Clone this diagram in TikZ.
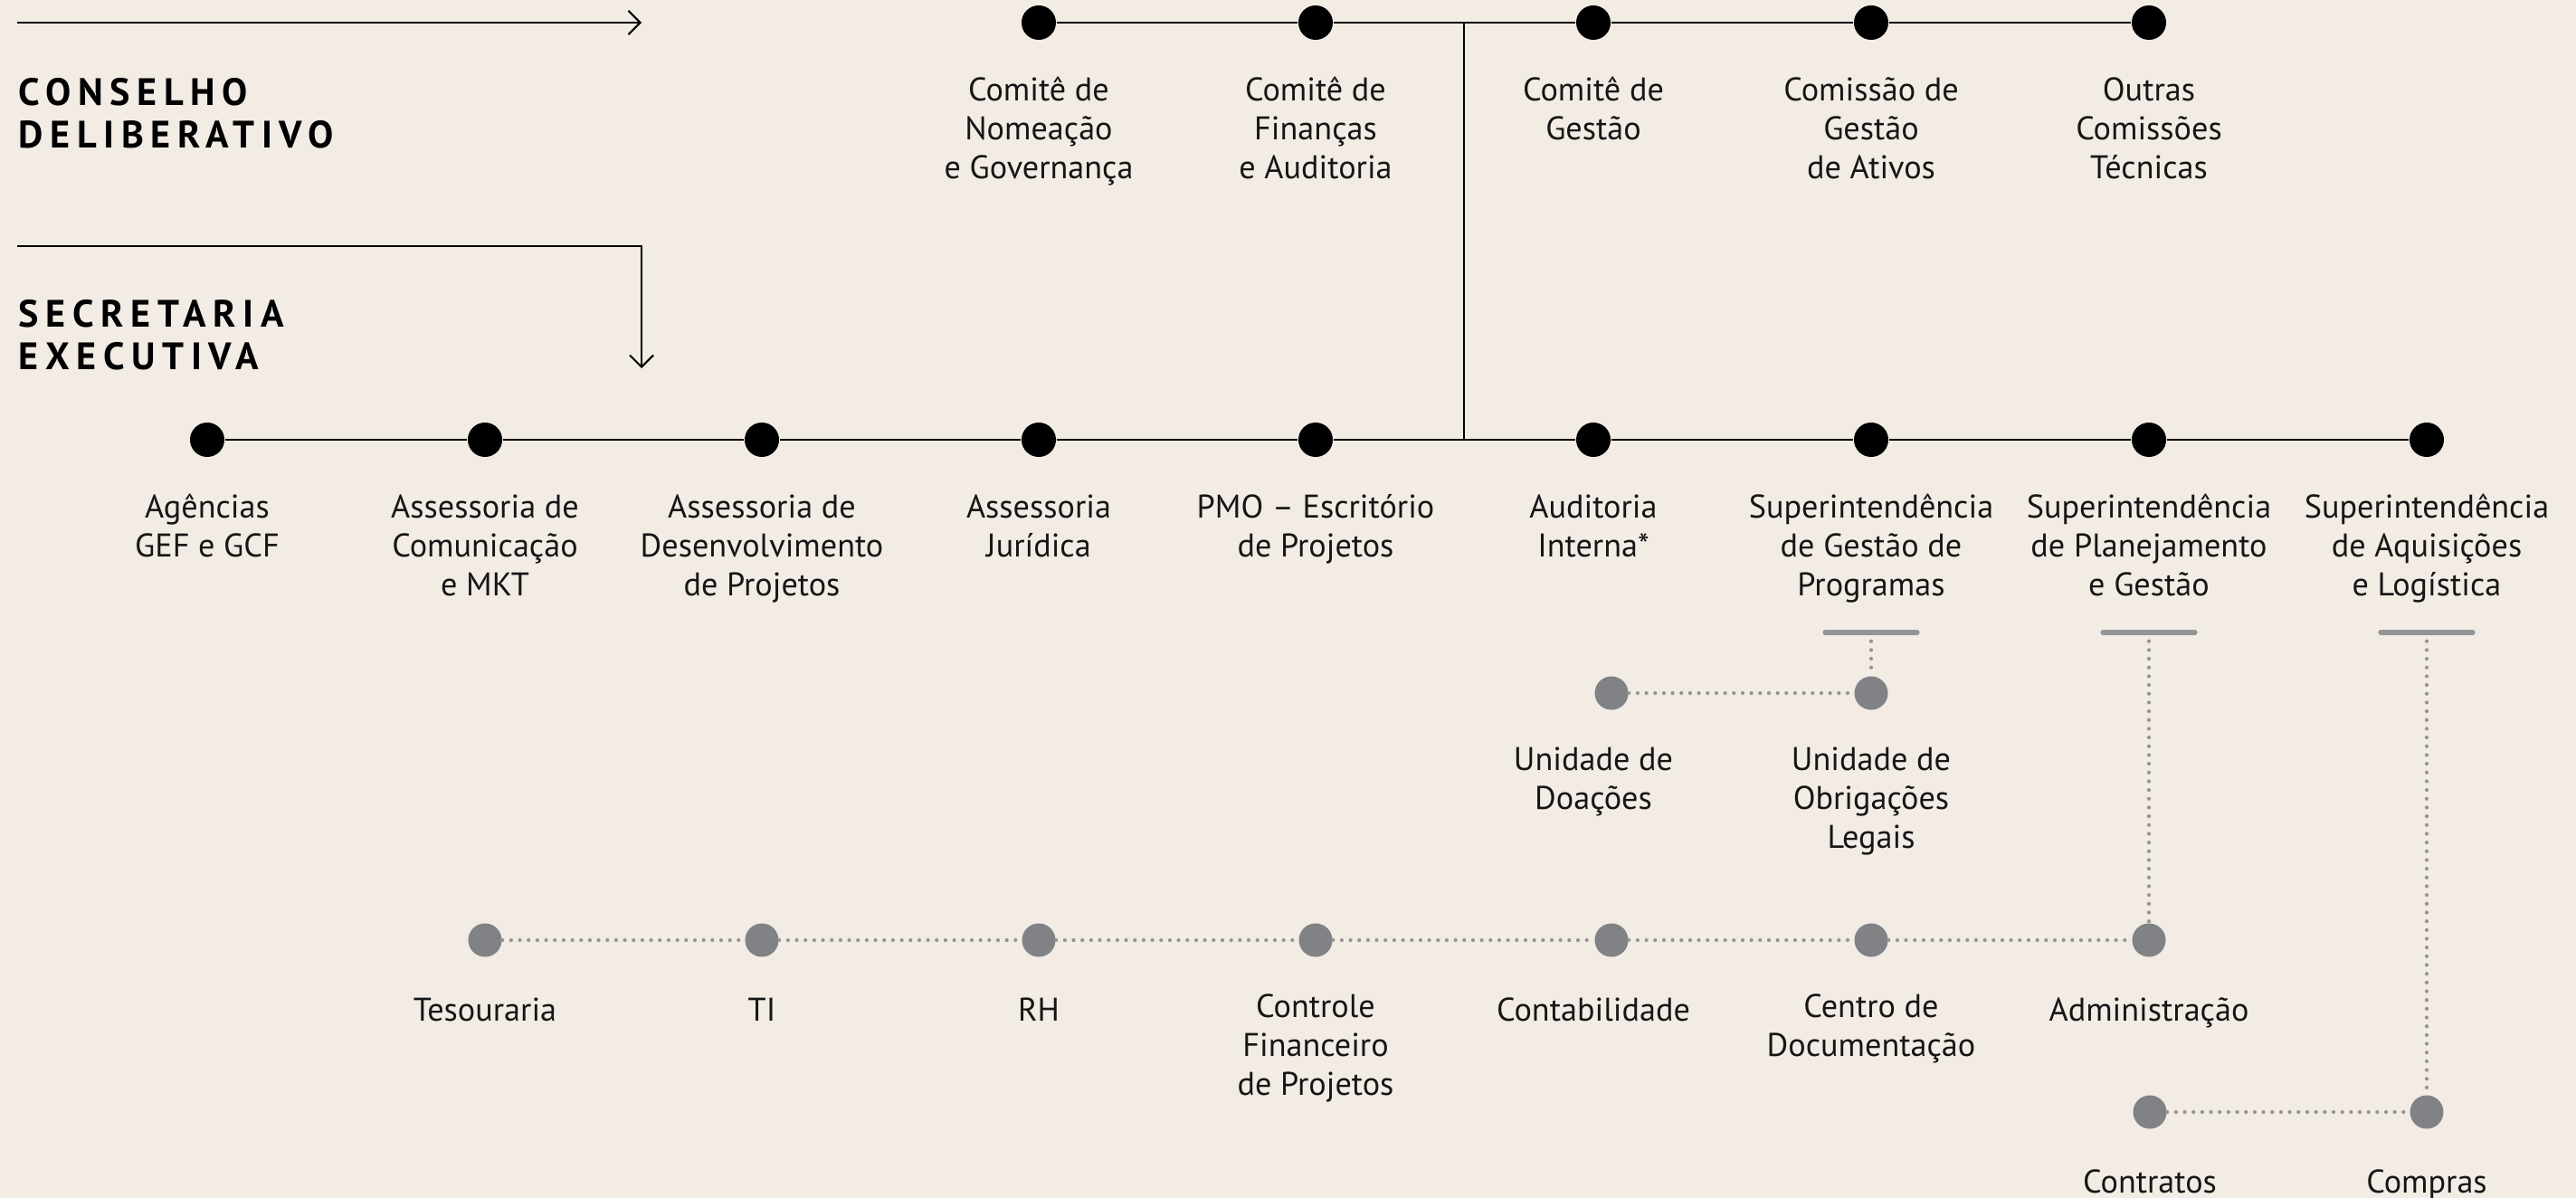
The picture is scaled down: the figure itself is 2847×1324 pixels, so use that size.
\documentclass[tikz,border=0pt]{standalone}
\usepackage{fontspec}
\setmainfont{PT Sans}
\newfontfamily\headfont{PT Sans}[LetterSpace=18]
\usetikzlibrary{positioning,arrows.meta}
\definecolor{paper}{HTML}{F2ECE5}
\definecolor{dotgray}{HTML}{808285}
\definecolor{linegray}{HTML}{939598}
\definecolor{ink}{HTML}{161616}
\tikzset{
    blacknode/.style={
        circle,
        fill=black, % 黑色实心圆点
        minimum size=0.38cm,
        inner sep=0
    },
    graynode/.style={
        circle,
        fill=dotgray, % 灰色实心圆点
        minimum size=0.37cm,
        inner sep=0
    },
    labelnode/.style={
        align=center,
        inner sep=0,
        text=ink,
        font=\fontsize{10.3}{12.2}\selectfont,
        execute at begin node=\strut
    },
    headnode/.style={
        align=left,
        inner sep=0,
        text=black,
        font=\headfont\bfseries\fontsize{12}{13.4}\selectfont,
        execute at begin node=\strut
    },
    mainline/.style={line width=0.85pt}, % 实线
    thinline/.style={line width=0.6pt},
    dotline/.style={
        draw=linegray,
        line width=1.2pt,
        line cap=round,
        dash pattern=on 0pt off 2.75pt % 点线
    },
    tbar/.style={draw=linegray, line width=1.45pt, line cap=round}
}
\begin{document}
\begin{tikzpicture}[x=0.01cm, y=-0.01cm]
    \fill[paper] (0,0) rectangle (2847,1324);
    \useasboundingbox (0,0) rectangle (2847,1324);

    % 标题与箭头
    \node[headnode, anchor=north west] (hcons) at (20,86) {CONSELHO\\DELIBERATIVO};
    \node[headnode, anchor=north west] (hsec) at (20,331) {SECRETARIA\\EXECUTIVA};
    \coordinate (a1) at (19,25);
    \coordinate (a2) at (709,25);
    \coordinate (a3) at (19,272);
    \coordinate (a4) at (709,407);
    \draw[thinline, -{Straight Barb[length=1.3mm, width=2.6mm]}] (a1) -- (a2);
    \draw[thinline, -{Straight Barb[length=1.3mm, width=2.6mm]}] (a3) -| (a4);

    % 审议委员会
    \node[blacknode] (c1) at (1148,25) {};
    \node[blacknode] (c2) at (1454,25) {};
    \node[blacknode] (c3) at (1761,25) {};
    \node[blacknode] (c4) at (2068,25) {};
    \node[blacknode] (c5) at (2375,25) {};
    \node[labelnode, below=0.40cm of c1] (lc1) {Comitê de\\Nomeação\\e Governança};
    \node[labelnode, below=0.40cm of c2] (lc2) {Comitê de\\Finanças\\e Auditoria};
    \node[labelnode, below=0.40cm of c3] (lc3) {Comitê de\\Gestão};
    \node[labelnode, below=0.40cm of c4] (lc4) {Comissão de\\Gestão\\de Ativos};
    \node[labelnode, below=0.40cm of c5] (lc5) {Outras\\Comissões\\Técnicas};
    \draw[mainline] (c1) -- (c2) -- (c3) -- (c4) -- (c5);

    % 执行秘书处
    \node[blacknode] (s1) at (229,486) {};
    \node[blacknode] (s2) at (536,486) {};
    \node[blacknode] (s3) at (842,486) {};
    \node[blacknode] (s4) at (1148,486) {};
    \node[blacknode] (s5) at (1454,486) {};
    \node[blacknode] (s6) at (1761,486) {};
    \node[blacknode] (s7) at (2068,486) {};
    \node[blacknode] (s8) at (2375,486) {};
    \node[blacknode] (s9) at (2682,486) {};
    \node[labelnode, below=0.40cm of s1] (ls1) {Agências\\GEF e GCF};
    \node[labelnode, below=0.40cm of s2] (ls2) {Assessoria de\\Comunicação\\e MKT};
    \node[labelnode, below=0.40cm of s3] (ls3) {Assessoria de\\Desenvolvimento\\de Projetos};
    \node[labelnode, below=0.40cm of s4] (ls4) {Assessoria\\Jurídica};
    \node[labelnode, below=0.40cm of s5] (ls5) {PMO – Escritório\\de Projetos};
    \node[labelnode, below=0.40cm of s6] (ls6) {Auditoria\\Interna*};
    \node[labelnode, below=0.40cm of s7] (ls7) {Superintendência\\de Gestão de\\Programas};
    \node[labelnode, below=0.40cm of s8] (ls8) {Superintendência\\de Planejamento\\e Gestão};
    \node[labelnode, below=0.40cm of s9] (ls9) {Superintendência\\de Aquisições\\e Logística};
    \draw[mainline] (s1) -- (s2) -- (s3) -- (s4) -- (s5) -- (s6) -- (s7) -- (s8) -- (s9);
    \coordinate (j1) at (1618,25);
    \coordinate (j2) at (1618,486);
    \draw[thinline] (j1) -- (j2);

    % 下属单位
    \coordinate (t1) at (2068,699);
    \coordinate (t2) at (2375,699);
    \coordinate (t3) at (2682,699);
    \draw[tbar] ([xshift=-0.51cm]t1) -- ([xshift=0.51cm]t1);
    \draw[tbar] ([xshift=-0.51cm]t2) -- ([xshift=0.51cm]t2);
    \draw[tbar] ([xshift=-0.51cm]t3) -- ([xshift=0.51cm]t3);

    \node[graynode] (u1) at (1781,766) {};
    \node[graynode] (u2) at (2068,766) {};
    \node[labelnode, below=0.40cm of u1, xshift=-0.2cm] (lu1) {Unidade de\\Doações};
    \node[labelnode, below=0.40cm of u2] (lu2) {Unidade de\\Obrigações\\Legais};

    \node[graynode] (b1) at (536,1039) {};
    \node[graynode] (b2) at (842,1039) {};
    \node[graynode] (b3) at (1148,1039) {};
    \node[graynode] (b4) at (1454,1039) {};
    \node[graynode] (b5) at (1781,1039) {};
    \node[graynode] (b6) at (2068,1039) {};
    \node[graynode] (b7) at (2375,1039) {};
    \node[labelnode, below=0.40cm of b1] (lb1) {Tesouraria};
    \node[labelnode, below=0.40cm of b2] (lb2) {TI};
    \node[labelnode, below=0.40cm of b3] (lb3) {RH};
    \node[labelnode, below=0.40cm of b4] (lb4) {Controle\\Financeiro\\de Projetos};
    \node[labelnode, below=0.40cm of b5, xshift=-0.2cm] (lb5) {Contabilidade};
    \node[labelnode, below=0.40cm of b6] (lb6) {Centro de\\Documentação};
    \node[labelnode, below=0.40cm of b7] (lb7) {Administração};

    \node[graynode] (k1) at (2376,1229) {};
    \node[graynode] (k2) at (2682,1229) {};
    \node[labelnode, below=0.40cm of k1] (lk1) {Contratos};
    \node[labelnode, below=0.40cm of k2] (lk2) {Compras};

    \draw[dotline] (t1) -- (u2);
    \draw[dotline] (u1) -- (u2);
    \draw[dotline] (t2) -- (b7);
    \draw[dotline] (b1) -- (b2) -- (b3) -- (b4) -- (b5) -- (b6) -- (b7);
    \draw[dotline] (t3) -- (k2);
    \draw[dotline] (k1) -- (k2);
\end{tikzpicture}
\end{document}
